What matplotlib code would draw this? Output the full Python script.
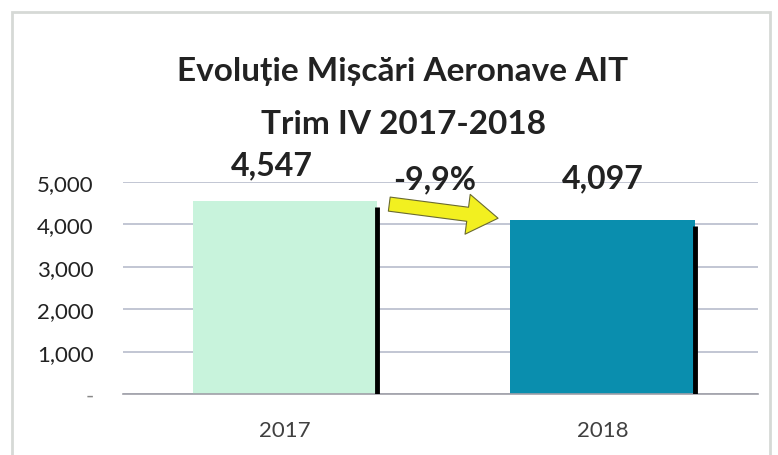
import matplotlib.pyplot as plt
from matplotlib.patches import FancyArrowPatch, Rectangle
from matplotlib.ticker import FuncFormatter

years = ["2017", "2018"]
movements = [4547, 4097]
change_label = "-9,9%"
bar_colors = ["#c8f3dc", "#0a8eae"]
title_lines = ["Evoluție Mișcări Aeronave AIT", "Trim IV 2017-2018"]

plt.rcParams["font.family"] = ["Lato", "DejaVu Sans"]

fig = plt.figure(figsize=(7.78, 4.56), dpi=100)
ax = fig.add_axes([123 / 778, 1 - 395 / 456, (758 - 123) / 778, (395 - 183) / 456])

# outer frame of the chart (bottom edge is cut off in the original)
fig.patches.append(Rectangle((12 / 778, -0.05), 758 / 778, 1.05 - 13 / 456, transform=fig.transFigure,
                             fill=False, edgecolor="#d6d9d6", linewidth=2))

x = range(len(years))
bars = ax.bar(x, movements, width=0.58, color=bar_colors, zorder=2)
# dark shadow on the right edge of the bars
for b in bars:
    ax.vlines(b.get_x() + b.get_width(), 0, b.get_height() - 130, color="black", linewidth=3.5, zorder=3)

ax.set_xlim(-0.51, 1.49)
ax.set_ylim(0, 5000)
ax.set_yticks([0, 1000, 2000, 3000, 4000, 5000])
ax.yaxis.set_major_formatter(FuncFormatter(lambda v, p: "-" if v == 0 else f"{int(v):,}"))
ax.set_xticks(list(x))
ax.set_xticklabels(years, color="#404040", fontsize=16)
ax.tick_params(axis="y", labelsize=16, colors="#222222", length=0, pad=21)
ax.tick_params(axis="x", length=0, pad=19)
ax.get_yticklabels()[0].set_color("#888888")
ax.grid(axis="y", color="#b8bccc", linewidth=1.2, zorder=0)
for s in ["top", "right", "left"]:
    ax.spines[s].set_visible(False)
ax.spines["bottom"].set_color("#a0a0a8")
ax.spines["bottom"].set_linewidth(1.2)

# value labels
label_kw = dict(ha="center", va="baseline", fontsize=23, fontweight="bold", color="#222222")
ax.text(-0.04, movements[0] + 640, f"{movements[0]:,}", **label_kw)
ax.text(1.0, movements[1] + 780, f"{movements[1]:,}", **label_kw)
ax.text(0.47, movements[1] + 760, change_label, **label_kw)

# yellow arrow between bars
arrow = FancyArrowPatch((0.32, movements[0] - 60), (0.68, movements[1] + 40),
                        arrowstyle="simple,head_width=1.7,head_length=1.3,tail_width=0.6",
                        mutation_scale=17, facecolor="#f2f020", edgecolor="#6a6a30", linewidth=0.8, zorder=4)
ax.add_patch(arrow)

fig.text(0.518, 1 - 72 / 456, title_lines[0], ha="center", va="center", fontsize=24, fontweight="bold", color="#222222")
fig.text(0.518, 1 - 125 / 456, title_lines[1], ha="center", va="center", fontsize=24, fontweight="bold", color="#222222")

fig.savefig("out.png", dpi=100)
